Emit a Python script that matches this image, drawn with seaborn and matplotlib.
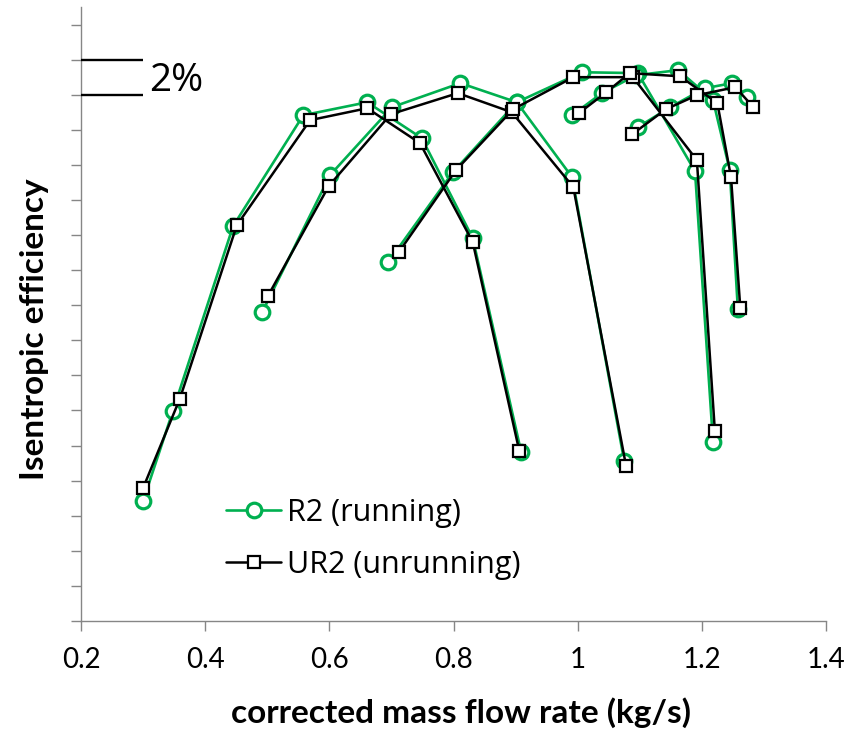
import matplotlib
matplotlib.use("Agg")
import matplotlib.pyplot as plt
from matplotlib.lines import Line2D
import seaborn as sns
import pandas as pd

# Speed lines of the compressor map: corrected mass flow (kg/s) vs. isentropic efficiency (%, relative)
r2_flow = [
    [0.300, 0.348, 0.445, 0.558, 0.661, 0.749, 0.831, 0.909],
    [0.492, 0.601, 0.701, 0.811, 0.902, 0.991, 1.075],
    [0.695, 0.799, 0.902, 1.007, 1.097, 1.189, 1.218],
    [0.991, 1.039, 1.094, 1.162, 1.218, 1.245, 1.258],
    [1.097, 1.149, 1.205, 1.249, 1.273],
]
r2_eff = [
    [6.84, 11.97, 22.51, 28.83, 29.57, 27.52, 21.82, 9.63],
    [17.61, 25.41, 29.29, 30.66, 29.57, 25.30, 9.12],
    [20.46, 25.58, 29.57, 31.28, 31.23, 25.64, 10.20],
    [28.83, 30.09, 31.11, 31.40, 29.69, 25.70, 17.78],
    [28.15, 29.29, 30.37, 30.66, 29.86],
]
ur2_flow = [
    [0.300, 0.359, 0.451, 0.569, 0.661, 0.746, 0.831, 0.906],
    [0.501, 0.599, 0.699, 0.807, 0.894, 0.993, 1.078],
    [0.712, 0.804, 0.896, 0.993, 1.089, 1.192, 1.221],
    [1.002, 1.046, 1.084, 1.165, 1.225, 1.247, 1.262],
    [1.088, 1.142, 1.192, 1.254, 1.283],
]
ur2_eff = [
    [7.58, 12.65, 22.56, 28.55, 29.23, 27.24, 21.60, 9.69],
    [18.52, 24.79, 28.89, 30.09, 29.00, 24.73, 8.83],
    [21.03, 25.70, 29.17, 31.00, 31.00, 26.27, 10.83],
    [28.95, 30.14, 31.23, 31.05, 29.52, 25.30, 17.83],
    [27.75, 29.17, 29.97, 30.43, 29.29],
]
series_names = ["R2 (running)", "UR2 (unrunning)"]
x_ticks = [0.2, 0.4, 0.6, 0.8, 1.0, 1.2, 1.4]
x_tick_labels = ["0.2", "0.4", "0.6", "0.8", "1", "1.2", "1.4"]

GREEN = "#00B050"
AXIS_GREY = "#868686"

rows = []
for name, flows, effs in [(series_names[0], r2_flow, r2_eff), (series_names[1], ur2_flow, ur2_eff)]:
    for k, (fl, ef) in enumerate(zip(flows, effs)):
        for i, (xv, yv) in enumerate(zip(fl, ef)):
            rows.append({"series": name, "speed": k, "order": i, "flow": xv, "eff": yv})
df = pd.DataFrame(rows)

sns.set_theme(style="white")
plt.rcParams["font.family"] = ["Open Sans", "DejaVu Sans"]
plt.rcParams["text.color"] = "black"

fig = plt.figure(figsize=(8.64, 7.31), dpi=100)
ax = fig.add_axes([81 / 864, 1 - 621 / 731, (826 - 81) / 864, (621 - 7) / 731])

styles = {
    series_names[0]: dict(color=GREEN, marker="o", markersize=10.5, markeredgewidth=2.3,
                          markerfacecolor="white", markeredgecolor=GREEN, linewidth=1.9, zorder=2),
    series_names[1]: dict(color="black", marker="s", markersize=8.6, markeredgewidth=1.6,
                          markerfacecolor="white", markeredgecolor="black", linewidth=1.8, zorder=3),
}

for name in series_names:
    sub = df[df["series"] == name]
    for k, grp in sub.groupby("speed"):
        grp = grp.sort_values("order")
        sns.lineplot(data=grp, x="flow", y="eff", sort=False, estimator=None,
                     ax=ax, legend=False, **styles[name])

ax.set_xlim(0.2, 1.4)
ax.set_ylim(0, 35)
ax.set_xticks(x_ticks)
ax.set_xticklabels(x_tick_labels, fontfamily="Lato", fontsize=20)
ax.set_yticks(range(0, 35, 2))
ax.set_yticklabels([])
ax.set_xlabel("")
ax.set_ylabel("")

for side in ["top", "right"]:
    ax.spines[side].set_visible(False)
for side in ["left", "bottom"]:
    ax.spines[side].set_color(AXIS_GREY)
    ax.spines[side].set_linewidth(1.0)
ax.tick_params(axis="both", which="major", direction="out", length=7, width=1.0,
               color=AXIS_GREY, left=True, bottom=True)
ax.tick_params(axis="x", pad=12, labelcolor="black")

# 2 % scale bar
ax.plot([0.2, 0.3], [32, 32], color="black", linewidth=1.7, solid_capstyle="butt", clip_on=False, zorder=4)
ax.plot([0.2, 0.3], [30, 30], color="black", linewidth=1.7, solid_capstyle="butt", clip_on=False, zorder=4)
ax.text(0.31, 30.8, "2%", fontsize=28, ha="left", va="center", color="black")

fig.text(35 / 864, 1 - 329 / 731, "Isentropic efficiency", rotation=90, ha="center", va="center",
         fontfamily="Lato", fontweight="bold", fontsize=24, color="black")
fig.text(461 / 864, 1 - 713 / 731, "corrected mass flow rate (kg/s)", ha="center", va="center",
         fontfamily="Lato", fontweight="bold", fontsize=24, color="black")

handles = [Line2D([], [], **{k: v for k, v in styles[n].items() if k != "zorder"}) for n in series_names]
leg = ax.legend(handles, series_names, loc="center left", bbox_to_anchor=(226 / 864, 1 - 539 / 731),
                bbox_transform=fig.transFigure, frameon=False, fontsize=22, borderpad=0,
                borderaxespad=0, handlelength=1.8, handletextpad=0.2, labelspacing=0.72)
for t in leg.get_texts():
    t.set_color("black")

fig.savefig("out.png", dpi=100)
